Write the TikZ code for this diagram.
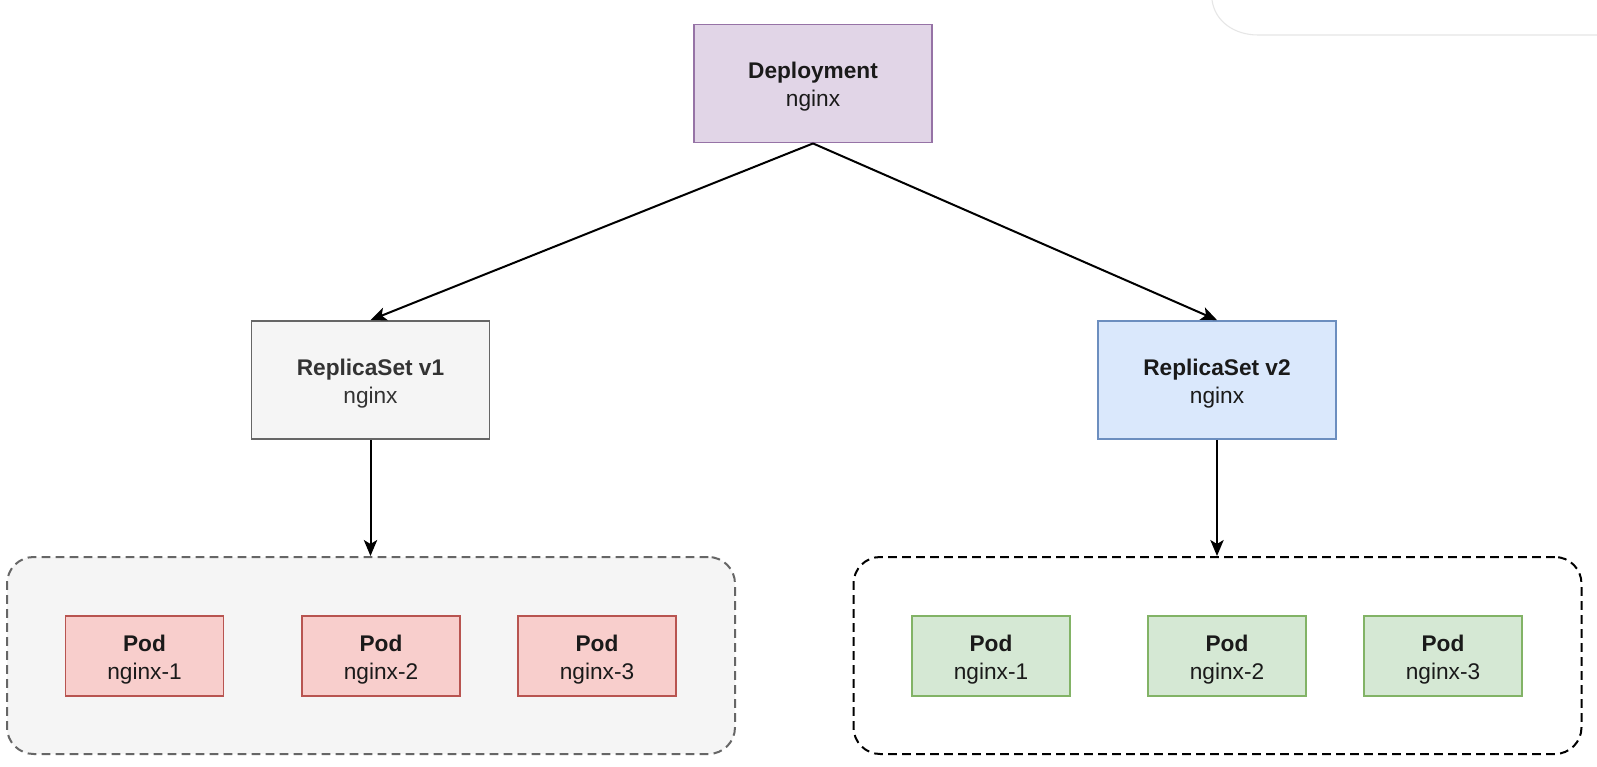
\documentclass[tikz,border=0pt]{standalone}
\usepackage{fontspec}
\setmainfont{Liberation Sans}
\usetikzlibrary{arrows.meta}
\definecolor{depfill}{HTML}{E1D5E7}
\definecolor{depdraw}{HTML}{9673A6}
\definecolor{rsonefill}{HTML}{F5F5F5}
\definecolor{rsonedraw}{HTML}{666666}
\definecolor{rsonetext}{HTML}{333333}
\definecolor{rstwofill}{HTML}{DAE8FC}
\definecolor{rstwodraw}{HTML}{6C8EBF}
\definecolor{redfill}{HTML}{F8CECC}
\definecolor{reddraw}{HTML}{B85450}
\definecolor{greenfill}{HTML}{D5E8D4}
\definecolor{greendraw}{HTML}{82B366}
\definecolor{txt}{HTML}{1A1A1A}
\definecolor{edgegray}{HTML}{E6E6E6}
\newcommand\myup{\rule{0pt}{17.5pt}}
\tikzset{
  box/.style={rectangle, line width=1.4pt, align=center, inner sep=0pt,
    font=\fontsize{17}{21}\selectfont, text=txt},
  bigbox/.style={box, minimum width=238*0.75pt, minimum height=118*0.75pt},
  podbox/.style={box, minimum width=158*0.75pt, minimum height=80*0.75pt},
  group/.style={rectangle, rounded corners=20pt, line width=1.5pt,
    dash pattern=on 6.5pt off 4pt, minimum width=728*0.75pt, minimum height=197*0.75pt},
  conn/.style={line width=1.5pt, -{Stealth[length=12pt,width=10pt,inset=3pt]}}
}
\begin{document}
\begin{tikzpicture}[x=0.75pt,y=-0.75pt]
\useasboundingbox (0,0) rectangle (1597,767);
\fill[white] (0,0) rectangle (1597,767);
% partial panel corner at top right
\draw[edgegray, line width=0.8pt] (1212,0) .. controls (1215,22) and (1235,35) .. (1258,35) -- (1597,35);

\node[bigbox, fill=depfill, draw=depdraw] (dep) at (813,83.5) {\myup\textbf{Deployment}\\nginx};
\node[bigbox, fill=rsonefill, draw=rsonedraw, text=rsonetext] (rs1) at (370.5,380) {\myup\textbf{ReplicaSet v1}\\nginx};
\node[bigbox, fill=rstwofill, draw=rstwodraw] (rs2) at (1217,380) {\myup\textbf{ReplicaSet v2}\\nginx};

\node[group, fill=rsonefill, draw=rsonedraw] (g1) at (371,655.5) {};
\node[group, fill=white, draw=black] (g2) at (1217.5,655.5) {};

\node[podbox, fill=redfill, draw=reddraw] (p11) at (144.5,656) {\myup\textbf{Pod}\\nginx-1};
\node[podbox, fill=redfill, draw=reddraw] (p12) at (381,656) {\myup\textbf{Pod}\\nginx-2};
\node[podbox, fill=redfill, draw=reddraw] (p13) at (597,656) {\myup\textbf{Pod}\\nginx-3};

\node[podbox, fill=greenfill, draw=greendraw] (p21) at (991,656) {\myup\textbf{Pod}\\nginx-1};
\node[podbox, fill=greenfill, draw=greendraw] (p22) at (1227,656) {\myup\textbf{Pod}\\nginx-2};
\node[podbox, fill=greenfill, draw=greendraw] (p23) at (1443,656) {\myup\textbf{Pod}\\nginx-3};

\draw[conn] (dep.south) -- (rs1.north);
\draw[conn] (dep.south) -- (rs2.north);
\draw[conn] (rs1.south) -- (rs1.south |- g1.north);
\draw[conn] (rs2.south) -- (rs2.south |- g2.north);
\end{tikzpicture}
\end{document}
